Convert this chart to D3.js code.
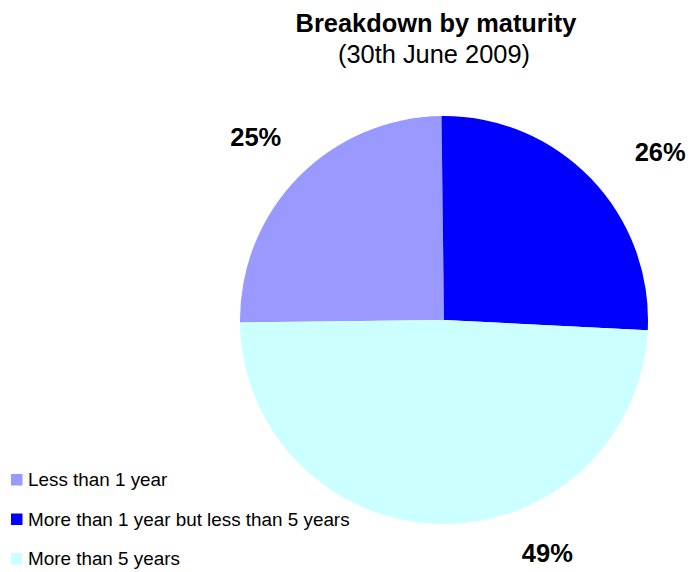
<!DOCTYPE html>
<html>
<head>
<meta charset="utf-8">
<script src="https://cdn.jsdelivr.net/npm/d3@7"></script>
<style>
  html, body { margin: 0; padding: 0; background: #fff; }
  svg { display: block; font-family: "Liberation Sans", Arial, sans-serif; }
</style>
</head>
<body>
<svg id="chart" width="690" height="572"></svg>
<script>
// Maturity buckets and their share of the portfolio (percent)
const categories = [
  "Less than 1 year",
  "More than 1 year but less than 5 years",
  "More than 5 years"
];
const shares = [25, 26, 49];
const sliceColors = ["#9999FF", "#0000FF", "#CCFFFF"];

const titleText = "Breakdown by maturity";
const subtitleText = "(30th June 2009)";

// Label placement around the pie: angular offset from slice middle (deg) and radius (px)
const labelAngleOffset = [0, 6, -25];
const labelRadius = [263, 274, 255];

const W = 690, H = 572;
const cx = 444, cy = 320, R = 204;

const svg = d3.select("#chart");

// Title
svg.append("text")
  .attr("x", 436).attr("y", 32)
  .attr("text-anchor", "middle")
  .attr("font-size", 25.4).attr("font-weight", "bold")
  .attr("fill", "#000")
  .text(titleText);

svg.append("text")
  .attr("x", 434).attr("y", 63)
  .attr("text-anchor", "middle")
  .attr("font-size", 25.4)
  .attr("fill", "#000")
  .text(subtitleText);

// Pie
const startDeg = -90.7;
const pie = d3.pie()
  .sort(null)
  .value(d => d)
  .startAngle(startDeg * Math.PI / 180)
  .endAngle((startDeg + 360) * Math.PI / 180);

const arcs = pie(shares);
const arc = d3.arc().innerRadius(0).outerRadius(R);

const g = svg.append("g").attr("transform", `translate(${cx},${cy})`);

g.selectAll("path.slice")
  .data(arcs)
  .join("path")
  .attr("class", "slice")
  .attr("d", arc)
  .attr("fill", (d, i) => sliceColors[i]);

// Percentage labels
const fmt = d => d3.format(".0f")(d) + "%";
g.selectAll("text.pct")
  .data(arcs)
  .join("text")
  .attr("class", "pct")
  .attr("x", (d, i) => {
    const a = (d.startAngle + d.endAngle) / 2 + labelAngleOffset[i] * Math.PI / 180;
    return Math.sin(a) * labelRadius[i];
  })
  .attr("y", (d, i) => {
    const a = (d.startAngle + d.endAngle) / 2 + labelAngleOffset[i] * Math.PI / 180;
    return -Math.cos(a) * labelRadius[i];
  })
  .attr("dy", "0.36em")
  .attr("text-anchor", "middle")
  .attr("font-size", 25.5).attr("font-weight", "bold")
  .attr("fill", "#000")
  .text(d => fmt(d.data));

// Legend
const legend = svg.append("g").attr("transform", "translate(11,486)");
const rowY = d3.scalePoint().domain(categories).range([0, 79]);

const rows = legend.selectAll("g.row")
  .data(categories)
  .join("g")
  .attr("class", "row")
  .attr("transform", d => `translate(0,${rowY(d)})`);

rows.append("rect")
  .attr("x", 0).attr("y", -12)
  .attr("width", 11.5).attr("height", 11.5)
  .attr("fill", (d, i) => sliceColors[i]);

rows.append("text")
  .attr("x", 17).attr("y", 0)
  .attr("font-size", 18.85)
  .attr("fill", "#000")
  .text(d => d);
</script>
</body>
</html>
